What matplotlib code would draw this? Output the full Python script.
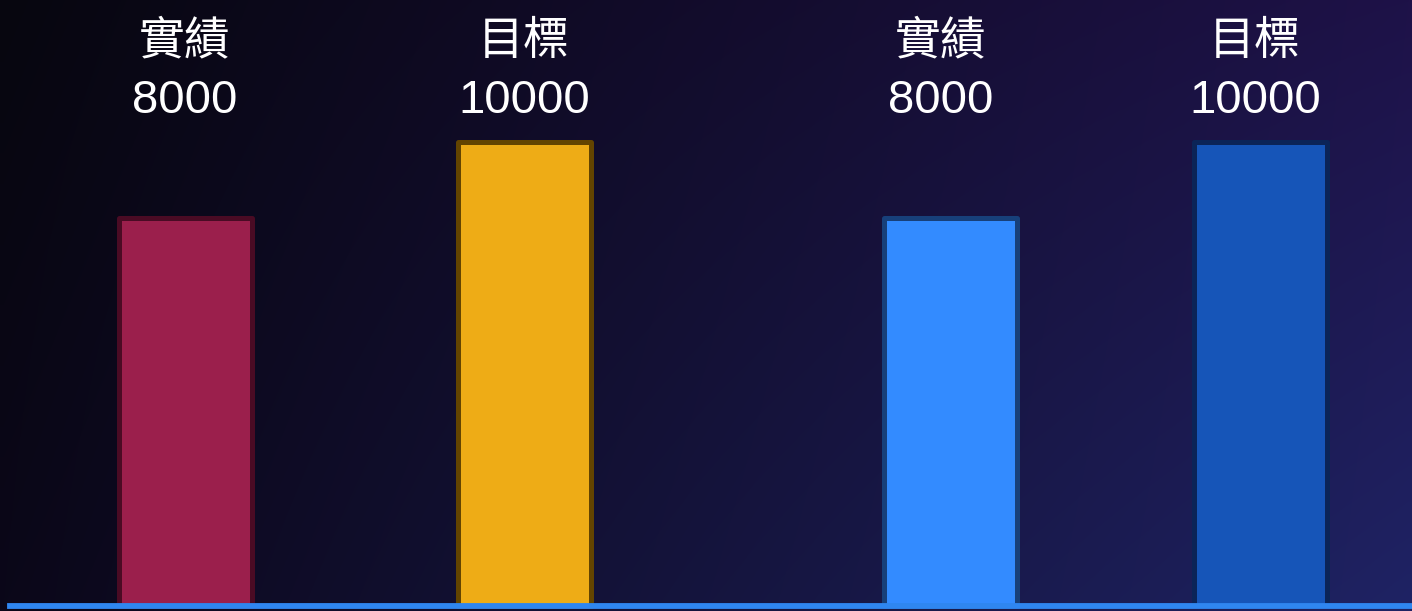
import matplotlib
matplotlib.use('Agg')
import matplotlib.pyplot as plt
import numpy as np
from matplotlib.colors import to_rgb

plt.rcParams['font.family'] = ['Liberation Sans', 'Noto Sans CJK TC', 'DejaVu Sans']

# data
categories = ['實績', '目標', '實績', '目標']
values = [8000, 10000, 8000, 10000]

# layout / style
xpos = [0, 1, 2.257, 3.171]
label_dx = [0, 0, -10, -5]   # px nudges for the labels
fills = ['#9b1f4c', '#eeac16', '#338bff', '#1655b8']
edges = ['#4a0b24', '#634400', '#17407a', '#0b2457']
floor = -2211          # baseline level, bars start here
ytop, ybot = 13724, -2355

W, H = 14.12, 6.11
fig = plt.figure(figsize=(W, H), dpi=100)

# background gradient (corner colours, bilinear)
bg = fig.add_axes([0, 0, 1, 1], zorder=0)
corners = np.array([[to_rgb('#07060f'), to_rgb('#1e1248')],
                    [to_rgb('#0b0719'), to_rgb('#1f2364')]])
t = np.linspace(0, 1, 200)
u = t[None, :, None]
v = t[:, None, None]
top = corners[0, 0] * (1 - u) + corners[0, 1] * u
bot = corners[1, 0] * (1 - u) + corners[1, 1] * u
img = top * (1 - v) + bot * v
bg.imshow(img, aspect='auto', extent=[0, 1, 0, 1], interpolation='bilinear')
bg.set_axis_off()

ax = fig.add_axes([0, 0, 1, 1], zorder=1)
ax.patch.set_alpha(0)
ax.set_xlim(-0.546, 3.619)
ax.set_ylim(ybot, ytop)
ax.set_axis_off()

heights = [v - floor for v in values]
bars = ax.bar(xpos, heights, bottom=floor, width=0.392, color=fills,
              edgecolor=edges, linewidth=3.6, zorder=2)
for b in bars:
    b.set_joinstyle('round')

# baseline
ax.axhline(floor, xmin=10 / 1412, xmax=1, color='#2f86f0', lw=4.2, zorder=3)

for x, cat, val, dx in zip(xpos, categories, values, label_dx):
    ax.annotate(cat, (x, 0.931), xycoords=('data', 'axes fraction'),
                xytext=(dx * 0.72, 0), textcoords='offset points',
                ha='center', va='center', color='white', fontsize=33)
    ax.annotate(str(val), (x, 0.835), xycoords=('data', 'axes fraction'),
                xytext=(dx * 0.72, 0), textcoords='offset points',
                ha='center', va='center', color='white', fontsize=34)

fig.savefig('out.png', dpi=100)
